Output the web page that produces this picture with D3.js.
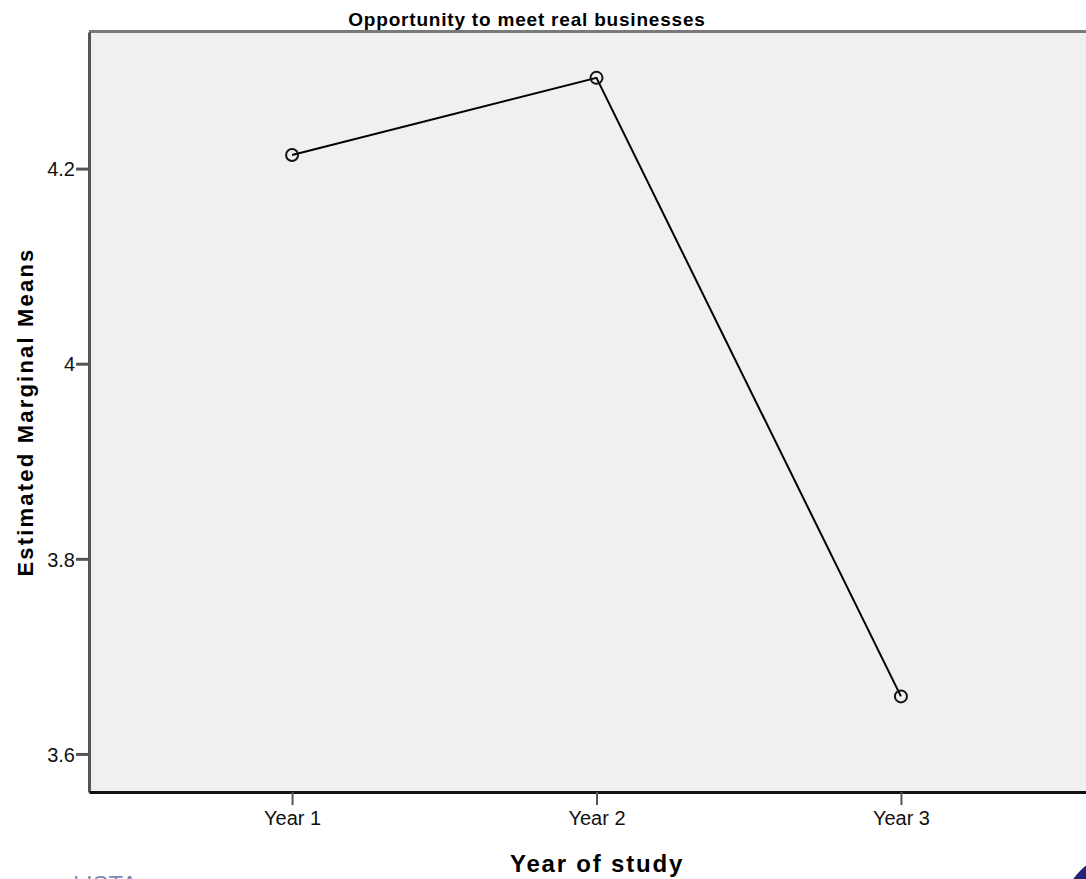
<!DOCTYPE html>
<html>
<head>
<meta charset="utf-8">
<script src="https://cdn.jsdelivr.net/npm/d3@7"></script>
<style>
  html, body { margin: 0; padding: 0; background: #fff; overflow: hidden; }
  svg { display: block; font-family: Arial, "Liberation Sans", sans-serif; }
</style>
</head>
<body>
<div id="graph"></div>
<script>
// chart values
var categories = ["Year 1", "Year 2", "Year 3"];
var means = [4.214, 4.293, 3.659];
var y_ticks = [3.6, 3.8, 4.0, 4.2];
var y_tick_labels = ["3.6", "3.8", "4", "4.2"];

var title_text = "Opportunity to meet real businesses";
var x_title = "Year of study";
var y_title = "Estimated Marginal Means";

var WIDTH = 1086;
var HEIGHT = 879;

// plot area (the right side runs off the picture)
var PLOT_LEFT = 89;
var PLOT_TOP = 32;
var PLOT_RIGHT = 1104;
var PLOT_BOTTOM = 792;

let svg = d3.select("#graph")
            .append("svg")
              .attr("width", WIDTH)
              .attr("height", HEIGHT);

let xscale = d3.scalePoint()
               .domain(categories)
               .range([PLOT_LEFT, PLOT_RIGHT])
               .padding(0.667);

let yscale = d3.scaleLinear()
               .domain([3.561, 4.34])
               .range([PLOT_BOTTOM, PLOT_TOP]);

// background of the plot
svg.append("rect")
   .attr("x", PLOT_LEFT)
   .attr("y", PLOT_TOP)
   .attr("width", PLOT_RIGHT - PLOT_LEFT)
   .attr("height", PLOT_BOTTOM - PLOT_TOP)
   .attr("fill", "#f0f0f0");

// top border (gray)
svg.append("line")
   .attr("x1", PLOT_LEFT).attr("x2", WIDTH)
   .attr("y1", PLOT_TOP - 0.5).attr("y2", PLOT_TOP - 0.5)
   .attr("stroke", "#7a7a7a")
   .attr("stroke-width", 3);

// axes
let y_axis = d3.axisLeft(yscale)
               .tickValues(y_ticks)
               .tickFormat(function (d, i) { return y_tick_labels[i]; })
               .tickSize(13)
               .tickSizeOuter(0)
               .tickPadding(1);

let x_axis = d3.axisBottom(xscale)
               .tickSize(13)
               .tickSizeOuter(0)
               .tickPadding(6);

let yAxisElements = svg.append("g")
                       .attr("transform", "translate(" + PLOT_LEFT + ",0)")
                       .call(y_axis);

let xAxisElements = svg.append("g")
                       .attr("transform", "translate(0," + PLOT_BOTTOM + ")")
                       .call(x_axis);

yAxisElements.select(".domain")
             .attr("stroke", "#555")
             .attr("stroke-width", 3);
yAxisElements.selectAll(".tick line")
             .attr("stroke", "#555")
             .attr("stroke-width", 3);

xAxisElements.select(".domain")
             .attr("stroke", "#111")
             .attr("stroke-width", 3);
xAxisElements.selectAll(".tick line")
             .attr("stroke", "#555")
             .attr("stroke-width", 2);

svg.selectAll(".tick text")
   .attr("fill", "#111")
   .style("font-size", "20px")
   .style("font-family", "Arial, 'Liberation Sans', sans-serif");

yAxisElements.selectAll(".tick text").attr("dy", "0.36em");

// means line
let points = categories.map(function (c, i) { return [c, means[i]]; });

let line = d3.line()
             .x(function (d) { return xscale(d[0]); })
             .y(function (d) { return yscale(d[1]); });

svg.append("path")
   .datum(points)
   .attr("d", line)
   .attr("fill", "none")
   .attr("stroke", "#000")
   .attr("stroke-width", 2);

svg.selectAll("circle_data")
   .data(points)
   .enter()
   .append("circle")
     .attr("cx", function (d) { return xscale(d[0]); })
     .attr("cy", function (d) { return yscale(d[1]); })
     .attr("r", 6)
     .attr("fill", "none")
     .attr("stroke", "#111")
     .attr("stroke-width", 2);

// titles
svg.append("text")
   .attr("x", 527)
   .attr("y", 26)
   .attr("text-anchor", "middle")
   .style("font-size", "19px")
   .style("font-weight", "bold")
   .style("letter-spacing", "0.8px")
   .text(title_text);

svg.append("text")
   .attr("x", 597)
   .attr("y", 872)
   .attr("text-anchor", "middle")
   .style("font-size", "24px")
   .style("font-weight", "bold")
   .style("letter-spacing", "1.8px")
   .text(x_title);

svg.append("text")
   .attr("transform", "translate(33,412) rotate(-90)")
   .attr("text-anchor", "middle")
   .style("font-size", "22px")
   .style("font-weight", "bold")
   .style("letter-spacing", "2.2px")
   .text(y_title);

// bits of the page around the chart
svg.append("text")
   .attr("x", 73)
   .attr("y", 893)
   .attr("fill", "#33337a")
   .attr("opacity", 0.6)
   .style("font-size", "24px")
   .text("| ISTA");

svg.append("circle")
   .attr("cx", 1125)
   .attr("cy", 915)
   .attr("r", 63)
   .attr("fill", "#23237a");
</script>
</body>
</html>
